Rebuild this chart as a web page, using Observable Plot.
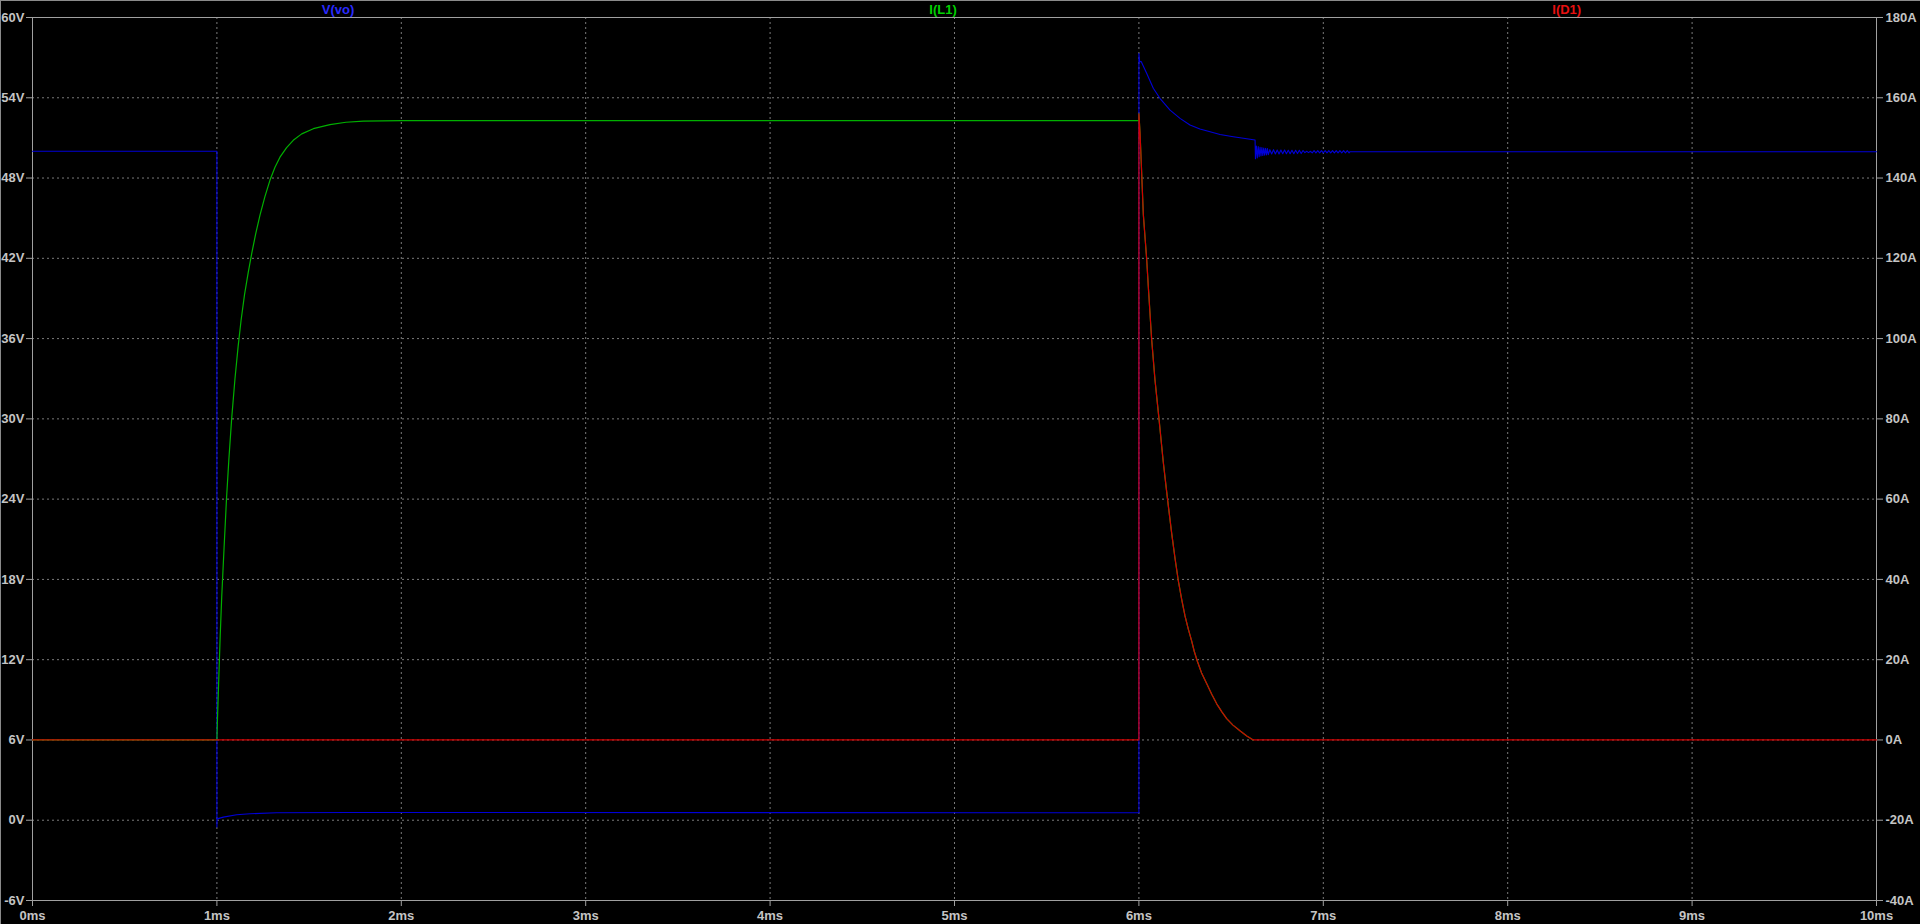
<!DOCTYPE html>
<html><head><meta charset="utf-8">
<script src="https://cdn.jsdelivr.net/npm/d3@7"></script>
<script src="https://cdn.jsdelivr.net/npm/@observablehq/plot@0.6"></script>
<style>
html,body{margin:0;padding:0;background:#000;overflow:hidden}
#chart{width:1920px;height:924px}
#chart svg text{font-weight:bold;font-family:'Liberation Sans',Arial,sans-serif}
</style></head><body><div id="chart"></div>
<script>
// ---- tick definitions ----
const xTicks = [0,1,2,3,4,5,6,7,8,9,10];            // ms
const vTicks = [-6,0,6,12,18,24,30,36,42,48,54,60];  // volts (left axis)
const aTicks = [-40,-20,0,20,40,60,80,100,120,140,160,180]; // amps (right axis)

// ---- V(vo) : time (ms) , volts ----
const voTime = [0,1,1,1.001,1.035,1.107,1.18,1.324,1.72,6,
  6,6.004,6.013,6.042,6.078,6.114,6.169,6.223,6.277,6.331,6.386,6.44,6.512,6.585,6.63,
  6.632,6.637,6.642,6.647,6.652,6.657,6.662,6.667,6.672,6.677,6.682,6.687,6.692,6.697,6.702,
  6.71,6.72,6.73,6.74,6.75,6.76,6.77,6.78,6.79,6.80,6.81,6.82,6.83,6.84,6.85,6.86,6.87,6.88,6.89,
  6.90,6.91,6.92,6.93,6.94,6.95,6.96,6.97,6.98,6.99,7.00,7.01,7.02,7.03,7.04,7.05,7.06,7.07,7.08,
  7.09,7.10,7.11,7.12,7.13,7.14,7.145,10];
const voVolt = [50,50,-0.5,0.1,0.23,0.41,0.48,0.56,0.58,0.56,
  57.3,56.7,56.7,55.83,54.71,53.96,53.08,52.46,51.96,51.66,51.46,51.26,51.09,50.94,50.84,
  49.45,50.4,49.5,50.35,49.6,50.3,49.65,50.28,49.68,50.25,49.7,50.22,49.72,50.2,49.75,
  50.12,49.8,50.12,49.8,50.1,49.8,50.1,49.82,50.1,49.82,50.08,49.82,50.08,49.82,50.08,49.83,50.08,49.83,50.06,
  49.9,50.0,49.9,50.0,49.88,50.05,49.88,50.05,49.88,50.05,49.88,50.05,49.88,50.05,49.88,50.05,49.88,50.05,49.88,
  50.05,49.88,50.05,49.88,50.05,49.88,49.97,49.97];

// ---- I(D1) : time (ms) , amps ----
const d1Time = [0,6,6,6.006,6.010,6.024,6.042,6.051,6.069,6.087,6.109,6.132,6.156,6.178,6.196,6.214,6.232,6.25,6.268,6.286,6.30,6.317,6.34,6.368,6.395,6.422,6.45,6.476,6.51,6.548,6.585,6.62,10];
const d1Amp  = [0,0,156,151.4,147.0,130.9,119.9,113.0,99.9,89.8,80.0,69.3,59.7,51.4,45.2,39.6,35.0,30.9,27.6,24.7,22.1,19.6,16.7,14.0,11.4,9.0,7.0,5.3,3.7,2.3,1.0,0,0];

// ---- I(L1) : time (ms) , amps (after 6 ms it carries the diode current) ----
const l1Time = [0,1,1.003,1.010,1.018,1.026,1.039,1.052,1.065,1.080,1.098,1.115,1.131,1.150,1.170,1.190,1.210,1.234,1.260,1.288,1.315,1.342,1.378,1.414,1.46,1.523,1.613,1.70,1.794,2,6];
const l1Amp  = [0,0,5,15,26,35.5,48,60,70,80,90,98,104.5,111,116.5,121.5,126,130.8,135.3,139.5,142.7,145.2,147.6,149.4,151.0,152.3,153.3,153.9,154.2,154.3,154.3];

// ---- series labels ----
const labels = [
  {name:"V(vo)", at:1.657, color:"#2a2aff"},
  {name:"I(L1)", at:4.938, color:"#00d000"},
  {name:"I(D1)", at:8.32,  color:"#e81010"}
];

// map right-axis amps onto the left-axis volt scale: [-40,180]A -> [-6,60]V
const ampToV = a => -6 + (a + 40) * (66 / 220);

const vo = voTime.map((t,i) => ({t, y: voVolt[i]}));
const d1 = d1Time.map((t,i) => ({t, y: ampToV(d1Amp[i])}));
const l1 = l1Time.map((t,i) => ({t, y: ampToV(l1Amp[i])}))
  .concat(d1Time.slice(2, -1).map((t,i) => ({t, y: ampToV(d1Amp[i+2])})));

const gridColor = "#7a7a7a";
const frameColor = "#a0a0a0";
const textColor = "#c4c4c4";

const plot = Plot.plot({
  width: 1920, height: 924,
  marginLeft: 32, marginRight: 44, marginTop: 17, marginBottom: 24,
  style: {background:"#000", color: textColor, fontFamily:"'Liberation Sans', Arial, sans-serif", fontSize:"13px", fontWeight:"bold"},
  x: {domain:[0,10]},
  y: {domain:[-6,60]},
  marks: [
    Plot.gridX(xTicks, {stroke:gridColor, strokeOpacity:1, strokeDasharray:"2,3"}),
    Plot.gridY(vTicks, {stroke:gridColor, strokeOpacity:1, strokeDasharray:"2,3"}),
    Plot.frame({stroke:frameColor}),
    Plot.axisX(xTicks, {tickSize:6, tickPadding:4, tickFormat: d => d + "ms", stroke:frameColor, fill:textColor, label:null}),
    Plot.axisY(vTicks, {anchor:"left", tickSize:6, tickPadding:2, tickFormat: d => d + "V", stroke:frameColor, fill:textColor, label:null}),
    Plot.axisY(aTicks.map(ampToV), {anchor:"right", tickSize:6, tickPadding:3, tickFormat: d => Math.round((d + 6) * 220 / 66 - 40) + "A", stroke:frameColor, fill:textColor, label:null}),
    Plot.line(vo, {x:"t", y:"y", stroke:"#0000d8", strokeWidth:1.1}),
    Plot.line(l1, {x:"t", y:"y", stroke:"#00b000", strokeWidth:1.2}),
    Plot.line(d1, {x:"t", y:"y", stroke:"#d00000", strokeWidth:1.2}),
    Plot.text([labels[0]], {x:"at", text:"name", frameAnchor:"top", dy:-13, fill:labels[0].color, fontSize:13, fontWeight:"bold"}),
    Plot.text([labels[1]], {x:"at", text:"name", frameAnchor:"top", dy:-13, fill:labels[1].color, fontSize:13, fontWeight:"bold"}),
    Plot.text([labels[2]], {x:"at", text:"name", frameAnchor:"top", dy:-13, fill:labels[2].color, fontSize:13, fontWeight:"bold"})
  ]
});
// window border (top and left edges)
const s = d3.select(plot);
s.append("line").attr("x1",0).attr("x2",1920).attr("y1",0.5).attr("y2",0.5).attr("stroke","#8a8a8a");
s.append("line").attr("x1",0.5).attr("x2",0.5).attr("y1",0).attr("y2",924).attr("stroke","#8a8a8a");
document.getElementById("chart").appendChild(plot);
</script>
</body></html>
